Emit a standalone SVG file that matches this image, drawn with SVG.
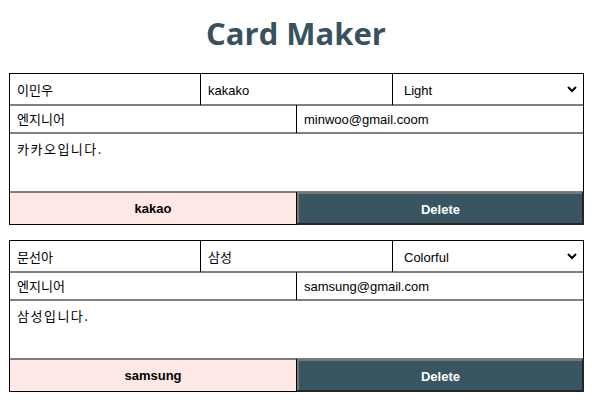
<svg xmlns="http://www.w3.org/2000/svg" width="592" height="400" viewBox="0 0 592 400">
<style>
.title{font-family:"Open Sans","Noto Sans",sans-serif;font-weight:bold;font-size:31px;fill:#37525d}
.cell{fill:#fff;stroke:#000;stroke-width:1}
.ln{stroke:#000;stroke-width:1;fill:none}
.ko{font-family:"Noto Sans CJK KR","Noto Sans",sans-serif;font-size:13px;fill:#000}
.ta{font-family:"Noto Sans CJK KR",sans-serif;font-size:13px;letter-spacing:1.5px;fill:#000}
.la{font-family:"Liberation Sans",Arial,sans-serif;font-size:13px;fill:#000}
.pink{fill:#ffe8e6}
.btn{font-family:"Liberation Sans",Arial,sans-serif;font-size:13px;font-weight:bold;text-anchor:middle}
.del{fill:#385561}
.chev{fill:none;stroke:#000;stroke-width:2}
</style>
<text class="title" x="296" y="45" text-anchor="middle">Card Maker</text>

<g id="card1">
  <rect class="cell" x="9.5" y="73.5" width="574" height="151"/>
  <rect class="pink" x="10" y="192.5" width="286" height="31.5"/>
  <line class="ln" x1="9.5" y1="105" x2="583.5" y2="105"/>
  <line class="ln" x1="9.5" y1="133" x2="583.5" y2="133"/>
  <line class="ln" x1="9.5" y1="192" x2="583.5" y2="192"/>
  <line class="ln" x1="200.5" y1="73.5" x2="200.5" y2="105"/>
  <line class="ln" x1="392.5" y1="73.5" x2="392.5" y2="105"/>
  <line class="ln" x1="296.5" y1="105" x2="296.5" y2="133"/>
  <line class="ln" x1="296.5" y1="192" x2="296.5" y2="224.5"/>
  <text class="ko" x="17" y="95">이민우</text>
  <text class="la" x="208" y="95">kakako</text>
  <text class="la" x="404" y="95">Light</text>
  <path class="chev" d="M568 87 L572 91 L576 87"/>
  <text class="ko" x="17" y="124">엔지니어</text>
  <text class="la" x="304" y="124">minwoo@gmail.coom</text>
  <text class="ta" x="17" y="154">카카오입니다.</text>
  <text class="btn" x="153" y="213" fill="#000">kakao</text>
  <g id="del1">
    <rect class="del" x="297" y="192" width="287" height="33"/>
    <path d="M297 192 H584 V194 H299 V225 H297 Z" fill="#777"/>
    <path d="M584 192 V225 H297 V223 H582 V192 Z" fill="#262626"/>
    <text class="btn" x="440.5" y="214" fill="#fff">Delete</text>
  </g>
</g>

<g id="card2">
  <rect class="cell" x="9.5" y="240.5" width="574" height="151"/>
  <rect class="pink" x="10" y="359.5" width="286" height="31.5"/>
  <line class="ln" x1="9.5" y1="272" x2="583.5" y2="272"/>
  <line class="ln" x1="9.5" y1="300" x2="583.5" y2="300"/>
  <line class="ln" x1="9.5" y1="359" x2="583.5" y2="359"/>
  <line class="ln" x1="200.5" y1="240.5" x2="200.5" y2="272"/>
  <line class="ln" x1="392.5" y1="240.5" x2="392.5" y2="272"/>
  <line class="ln" x1="296.5" y1="272" x2="296.5" y2="300"/>
  <line class="ln" x1="296.5" y1="359" x2="296.5" y2="391.5"/>
  <text class="ko" x="17" y="262">문선아</text>
  <text class="ko" x="208" y="262">삼성</text>
  <text class="la" x="404" y="262">Colorful</text>
  <path class="chev" d="M568 254 L572 258 L576 254"/>
  <text class="ko" x="17" y="291">엔지니어</text>
  <text class="la" x="304" y="291">samsung@gmail.com</text>
  <text class="ta" x="17" y="321">삼성입니다.</text>
  <text class="btn" x="153" y="380" fill="#000">samsung</text>
  <g id="del2">
    <rect class="del" x="297" y="359" width="287" height="33"/>
    <path d="M297 359 H584 V361 H299 V392 H297 Z" fill="#777"/>
    <path d="M584 359 V392 H297 V390 H582 V359 Z" fill="#262626"/>
    <text class="btn" x="440.5" y="381" fill="#fff">Delete</text>
  </g>
</g>
</svg>
